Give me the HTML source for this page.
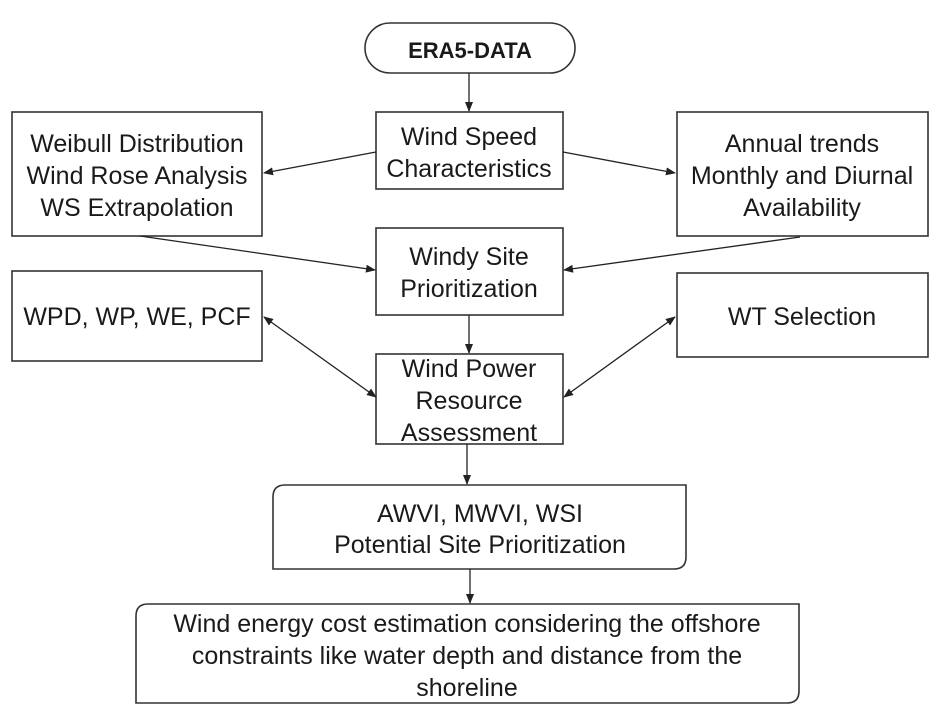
<!DOCTYPE html>
<html><head><style>
html,body{margin:0;padding:0;background:#fff;}
svg text{font-family:"Liberation Sans Narrow","Liberation Sans",sans-serif;fill:#1a1a1a;}
</style></head><body>
<svg width="937" height="715" viewBox="0 0 937 715" xmlns="http://www.w3.org/2000/svg">
<defs><marker id="a" markerWidth="10" markerHeight="8" refX="9" refY="4" orient="auto-start-reverse" markerUnits="userSpaceOnUse"><path d="M0,0 L10,4 L0,8 z" fill="#222"/></marker></defs>
<g fill="none" stroke="#333" stroke-width="1.6">
<rect x="365" y="23" width="210" height="50" rx="25"/>
<rect x="376" y="112" width="187" height="77"/>
<rect x="12" y="112" width="250" height="124"/>
<rect x="677" y="112" width="251" height="124"/>
<rect x="376" y="228" width="187" height="87"/>
<rect x="12" y="271" width="250" height="90"/>
<rect x="677" y="273" width="251" height="84"/>
<rect x="376" y="354" width="187" height="90"/>
<path d="M285,485 H686 V557 Q686,569 674,569 H273 V497 Q273,485 285,485 Z"/>
<path d="M148,604 H799 V691 Q799,703 787,703 H136 V616 Q136,604 148,604 Z"/>
</g>
<g stroke="#222" stroke-width="1.3" fill="none">
<line x1="469" y1="73" x2="469" y2="111" marker-end="url(#a)"/>
<line x1="376" y1="152" x2="264" y2="173" marker-end="url(#a)"/>
<line x1="563" y1="152" x2="675" y2="173" marker-end="url(#a)"/>
<line x1="140" y1="236" x2="375" y2="270" marker-end="url(#a)"/>
<line x1="800" y1="237" x2="564" y2="270" marker-end="url(#a)"/>
<line x1="469" y1="315" x2="469" y2="353" marker-end="url(#a)"/>
<line x1="264" y1="317" x2="376" y2="397" marker-start="url(#a)" marker-end="url(#a)"/>
<line x1="675" y1="317" x2="564" y2="397" marker-start="url(#a)" marker-end="url(#a)"/>
<line x1="467" y1="444" x2="467" y2="484" marker-end="url(#a)"/>
<line x1="470" y1="569" x2="470" y2="603" marker-end="url(#a)"/>
</g>
<g font-size="25" text-anchor="middle">
<text x="470" y="58" font-weight="bold" font-size="22">ERA5-DATA</text>
<text x="469" y="145">Wind Speed</text>
<text x="469" y="177">Characteristics</text>
<text x="137" y="152">Weibull Distribution</text>
<text x="137" y="184">Wind Rose Analysis</text>
<text x="137" y="216">WS Extrapolation</text>
<text x="802" y="152">Annual trends</text>
<text x="802" y="184">Monthly and Diurnal</text>
<text x="802" y="216">Availability</text>
<text x="469" y="265">Windy Site</text>
<text x="469" y="297">Prioritization</text>
<text x="137" y="325">WPD, WP, WE, PCF</text>
<text x="802" y="325">WT Selection</text>
<text x="469" y="377">Wind Power</text>
<text x="469" y="409">Resource</text>
<text x="469" y="441">Assessment</text>
<text x="480" y="522">AWVI, MWVI, WSI</text>
<text x="480" y="553">Potential Site Prioritization</text>
<text x="467" y="632">Wind energy cost estimation considering the offshore</text>
<text x="467" y="664">constraints like water depth and distance from the</text>
<text x="467" y="696">shoreline</text>
</g>
</svg>
</body></html>
